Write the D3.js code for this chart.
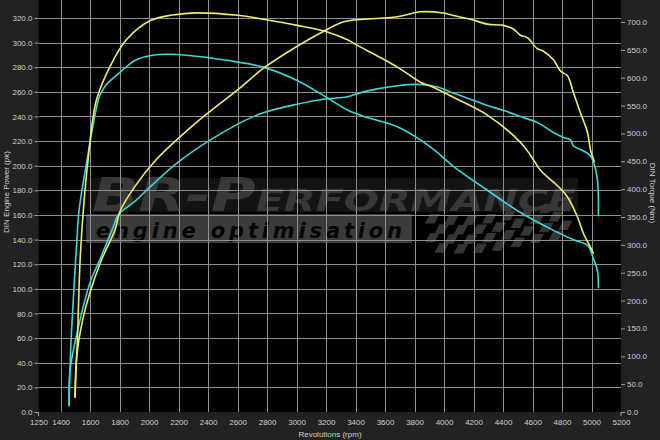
<!DOCTYPE html>
<html><head><meta charset="utf-8">
<script src="https://cdn.jsdelivr.net/npm/d3@7"></script>
<style>html,body{margin:0;padding:0;background:#222;}svg{display:block;}</style>
</head><body>
<svg id="c" width="660" height="440"></svg>
<script>
// ---- data ----
const xTicks = [1250,1400,1600,1800,2000,2200,2400,2600,2800,3000,3200,3400,3600,3800,4000,4200,4400,4600,4800,5000,5200];
const powerTicks = [0,20,40,60,80,100,120,140,160,180,200,220,240,260,280,300,320];
const torqueTicks = [0,50,100,150,200,250,300,350,400,450,500,550,600,650,700];

const tunedTorqueRpm = [1498,1504,1513,1532,1554,1586,1642,1733,1846,2013,2285,2604,2774,3004,3208,3345,3413,3684,3840,3907,4063,4294,4518,4586,4654,4789,4837,4905,4946,4993,5014];
const tunedTorqueNm  = [25,75,123,272,362,452,559,619,668,703,716,712,705,694,682,668,658,619,592,585,565,533,484,461,434,401,386,350,320,296,284];

const stockTorqueRpm = [1457,1468,1482,1509,1525,1579,1640,1667,1708,1790,1844,1903,2013,2149,2604,2774,3004,3208,3345,3452,3684,3907,4063,4294,4518,4742,4878,4973,5013,5040,5047];
const stockTorqueNm  = [10,111,183,303,362,452,542,569,587,607,619,631,640,642,628,619,595,564,542,531,512,476,441,398,358,326,309,299,275,254,222];

const tunedPowerRpm = [1498,1509,1550,1599,1679,1769,1803,1903,2049,2300,2604,2774,3004,3181,3296,3364,3684,3840,3995,4063,4178,4294,4402,4470,4518,4565,4633,4674,4742,4789,4837,4878,4925,4973,4993,5020];
const tunedPowerPk  = [12,45,75,97,124,148,163,183,205,233,262,279,297,309,316,318,321,325,324,322,319,315,314,311,306,304,295,293,286,277,273,259,243,227,213,203];

const stockPowerRpm = [1457,1464,1532,1599,1667,1756,1790,1903,2000,2219,2604,2774,3004,3181,3345,3452,3684,3840,3955,4063,4178,4294,4402,4518,4633,4742,4810,4857,4878,4946,4993,5014,5040,5047];
const stockPowerPk  = [5,34,75,105,124,150,160,171,182,205,234,243,250,254,256,260,265,266,264,259,254,249,245,240,235,227,223,221,216,212,208,203,189,159];

const tunedColor = "#f2ec6a", stockColor = "#3fd6d6";

// ---- layout ----
const svg = d3.select("#c");
const L = 38.5, R = 621, T = 0, B = 412;
const x = d3.scaleLinear().domain([1250,5200]).range([L,R]);
const yP = d3.scaleLinear().domain([0,334.6]).range([B,T]);
const yT = d3.scaleLinear().domain([0,739.5]).range([B,T]);

svg.append("rect").attr("width",660).attr("height",440).attr("fill","#222");
svg.append("rect").attr("x",L).attr("y",T).attr("width",R-L).attr("height",B-T).attr("fill","#000");

// ---- watermark ----
const wm = svg.append("g");
wm.append("rect").attr("x",88).attr("y",178).attr("width",490).attr("height",34).attr("fill","#131313");
const t1 = wm.append("text").attr("x",92).attr("y",211)
  .attr("font-family","DejaVu Sans, sans-serif").attr("font-weight","bold").attr("font-style","italic")
  .attr("fill","#383838").attr("textLength",484).attr("lengthAdjust","spacingAndGlyphs");
t1.append("tspan").attr("font-size",46).text("BR-P");
t1.append("tspan").attr("font-size",31).text("ERFORMANCE");
wm.append("rect").attr("x",86).attr("y",214).attr("width",326).attr("height",29).attr("fill","#3b3b3b");
wm.append("text").attr("x",96).attr("y",238)
  .attr("font-family","DejaVu Sans, sans-serif").attr("font-weight","bold").attr("font-style","italic")
  .attr("font-size",21).attr("fill","#050505").attr("textLength",306).attr("lengthAdjust","spacing")
  .text("engine optimisation");
// checkered flag
const flag = wm.append("g");
const cols = 15, rows = 4;
for (let i = 0; i < cols; i++) {
  for (let j = 0; j < rows; j++) {
    if ((i + j) % 2) continue;
    const sx = 425 + i*9.5, wave = Math.sin(i/cols*Math.PI*1.6)*4;
    const sy = 214 + j*9.5 + wave - i*0.6;
    const sk = 5;
    flag.append("path").attr("d",`M${sx+sk},${sy} L${sx+sk+9.5},${sy} L${sx+9.5},${sy+9.5} L${sx},${sy+9.5} Z`)
      .attr("fill","#363636");
  }
}

// ---- grid ----
const grid = svg.append("g").attr("stroke","#8f8f8f").attr("stroke-width",1).attr("shape-rendering","crispEdges");
grid.selectAll("line.v").data(xTicks.filter(d=>d>1250 && d<5200)).join("line")
  .attr("x1",d=>Math.round(x(d))+0.5).attr("x2",d=>Math.round(x(d))+0.5).attr("y1",T).attr("y2",B);
grid.selectAll("line.h").data(powerTicks.filter(d=>d>0)).join("line")
  .attr("y1",d=>Math.round(yP(d))+0.5).attr("y2",d=>Math.round(yP(d))+0.5).attr("x1",L).attr("x2",R);

// ---- axes ----
const font = "Liberation Sans, Arial, sans-serif";
const axL = svg.append("g").attr("transform",`translate(${L},0)`)
  .call(d3.axisLeft(yP).tickValues(powerTicks).tickSize(4).tickPadding(2).tickFormat(d3.format(".1f")));
const axR = svg.append("g").attr("transform",`translate(${R},0)`)
  .call(d3.axisRight(yT).tickValues(torqueTicks).tickSize(4).tickPadding(2).tickFormat(d3.format(".1f")));
const axB = svg.append("g").attr("transform",`translate(0,${B})`)
  .call(d3.axisBottom(x).tickValues(xTicks).tickSize(0).tickPadding(7).tickFormat(d3.format("d")));
[axL,axR,axB].forEach(a=>{
  a.select(".domain").remove();
  a.selectAll("line").attr("stroke","#a0a0a0");
  a.selectAll("text").attr("fill","#cfcfcf").attr("font-family",font).attr("font-size",8);
});
svg.selectAll("line.endtick").data([1250,5200]).join("line")
  .attr("x1",d=>x(d)).attr("x2",d=>x(d)).attr("y1",B).attr("y2",B+4).attr("stroke","#a0a0a0");

svg.append("text").attr("transform","translate(9,192) rotate(-90)").attr("text-anchor","middle")
  .attr("font-family",font).attr("font-size",8).attr("fill","#cfcfcf").text("DIN Engine Power (pk)");
svg.append("text").attr("transform","translate(650,193) rotate(90)").attr("text-anchor","middle")
  .attr("font-family",font).attr("font-size",8).attr("fill","#cfcfcf").text("DIN Torque (Nm)");
svg.append("text").attr("x",330).attr("y",437).attr("text-anchor","middle")
  .attr("font-family",font).attr("font-size",8).attr("fill","#cfcfcf").text("Revolutions (rpm)");

// ---- curves ----
function series(rpm, vals, yScale, color){
  const pts = rpm.map((r,i)=>[r, vals[i]]);
  svg.append("path").datum(pts)
    .attr("d", d3.line().x(d=>x(d[0])).y(d=>yScale(d[1])).curve(d3.curveCatmullRom.alpha(0.5)))
    .attr("fill","none").attr("stroke",color).attr("stroke-width",1.6).attr("stroke-linejoin","round");
}
series(stockPowerRpm, stockPowerPk, yP, stockColor);
series(stockTorqueRpm, stockTorqueNm, yT, stockColor);
series(tunedPowerRpm, tunedPowerPk, yP, tunedColor);
series(tunedTorqueRpm, tunedTorqueNm, yT, tunedColor);
</script>
</body></html>
